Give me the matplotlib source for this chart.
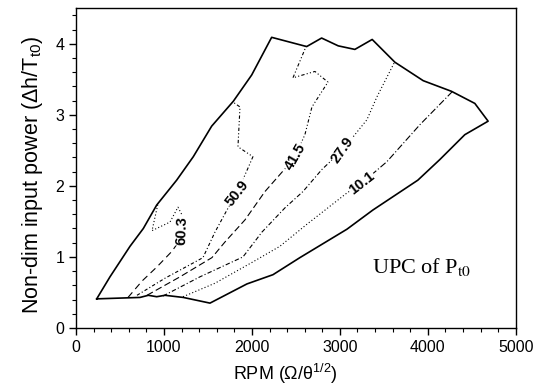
import numpy as np
import matplotlib
matplotlib.use("Agg")
import matplotlib.pyplot as plt
from matplotlib.ticker import MultipleLocator

plt.rcParams["font.family"] = ["Liberation Sans", "DejaVu Sans"]
plt.rcParams["mathtext.fontset"] = "custom"
plt.rcParams["mathtext.rm"] = "Liberation Sans"
plt.rcParams["mathtext.it"] = "Liberation Sans:italic"

# ---- operating envelope (solid outline)
env_rpm = [235, 386, 614, 765, 917, 1144, 1333, 1542, 1788, 1997, 2224, 2622, 2792,
           2981, 3170, 3367, 3625, 3947, 4269, 4534, 4685, 4420, 4136, 3886, 3375,
           3080, 2545, 2239, 1943, 1523, 1219, 1011, 917, 822, 727, 235]
env_pow = [0.41, 0.72, 1.15, 1.40, 1.73, 2.08, 2.41, 2.84, 3.19, 3.56, 4.09, 3.96, 4.08,
           3.97, 3.92, 4.06, 3.74, 3.48, 3.33, 3.16, 2.91, 2.72, 2.37, 2.08, 1.66,
           1.39, 0.99, 0.75, 0.62, 0.35, 0.43, 0.46, 0.44, 0.46, 0.43, 0.41]

# ---- contour lines (UPC of Pt0)
c603_rpm = [591, 750, 920, 1091, 1159, 1205, 1205, 1159, 1068, 864, 932]
c603_pow = [0.43, 0.66, 0.86, 1.08, 1.20, 1.37, 1.59, 1.70, 1.49, 1.37, 1.75]
c509_rpm = [693, 1011, 1295, 1443, 1580, 1716, 1830, 1955, 2011, 1841, 1864, 1784]
c509_pow = [0.46, 0.70, 0.89, 0.99, 1.35, 1.66, 1.90, 2.25, 2.41, 2.55, 3.11, 3.18]
c415_rpm = [807, 1182, 1545, 1693, 1920, 2148, 2432, 2489, 2602, 2682, 2864, 2716, 2466, 2625]
c415_pow = [0.46, 0.72, 0.99, 1.21, 1.52, 1.92, 2.32, 2.41, 2.72, 3.11, 3.46, 3.61, 3.52, 3.99]
c279_rpm = [989, 1409, 1898, 2114, 2375, 2580, 2795, 3034, 3170, 3307, 3420, 3625]
c279_pow = [0.45, 0.72, 1.00, 1.35, 1.69, 1.92, 2.23, 2.51, 2.72, 2.93, 3.25, 3.75]
c101_rpm = [1216, 1580, 2011, 2318, 2625, 3080, 3250, 3534, 3909, 4273]
c101_pow = [0.44, 0.63, 0.93, 1.15, 1.46, 1.90, 2.04, 2.34, 2.86, 3.32]

# label text, series, index of the point the label sits on, rotation
levels = [("60.3", c603_rpm, c603_pow, 5, 88),
          ("50.9", c509_rpm, c509_pow, 6, 52),
          ("41.5", c415_rpm, c415_pow, 7, 60),
          ("27.9", c279_rpm, c279_pow, 7, 55),
          ("10.1", c101_rpm, c101_pow, 6, 38)]

# dash patterns roughly as they look on the scan (below label / above label)
styles = {"60.3": ((0, (6, 4)), (0, (1, 2))),
          "50.9": ((0, (3, 2, 1, 2)), (0, (3, 2, 1, 2, 1, 2))),
          "41.5": ((0, (6, 3)), (0, (3, 2, 1, 2, 1, 2))),
          "27.9": ((0, (4, 2, 1, 2)), (0, (1, 2))),
          "10.1": ((0, (1, 2)), (0, (6, 2, 1, 2)))}

fig = plt.figure(figsize=(5.47, 3.90), dpi=100)
ax = fig.add_axes([0.139, 0.159, 0.804, 0.820])

ax.plot(env_rpm, env_pow, color="black", lw=1.2, zorder=3)

for lab, xs, ys, k, rot in levels:
    lo, hi = styles[lab]
    ax.plot(xs[:k + 1], ys[:k + 1], color="black", lw=0.8, ls=lo, zorder=2)
    ax.plot(xs[k:], ys[k:], color="black", lw=0.8, ls=hi, zorder=2)
    ax.text(xs[k], ys[k], lab, rotation=rot, ha="center", va="center",
            fontsize=10.5, fontweight="bold", zorder=4,
            bbox=dict(facecolor="white", edgecolor="none", pad=0.5))

ax.text(3364, 0.77, r"UPC of P$_{\rm t0}$", fontsize=16, family="Liberation Serif",
        math_fontfamily="stix", ha="left", va="baseline")

ax.set_xlim(0, 5000)
ax.set_ylim(0, 4.5)
ax.xaxis.set_major_locator(MultipleLocator(1000))
ax.xaxis.set_minor_locator(MultipleLocator(200))
ax.yaxis.set_major_locator(MultipleLocator(1))
ax.yaxis.set_minor_locator(MultipleLocator(0.2))
ax.tick_params(which="major", direction="out", length=5, width=1, labelsize=11.5)
ax.tick_params(which="minor", direction="out", length=3, width=0.8)
for s in ax.spines.values():
    s.set_linewidth(1.0)

ax.set_xlabel(r"RPM (Ω/θ$^{1/2}$)", fontsize=13)
ax.set_ylabel(r"Non-dim input power (Δh/T$_{\rm t0}$)", fontsize=15.5)
ax.xaxis.set_label_coords(0.475, -0.105)
ax.yaxis.set_label_coords(-0.07, 0.48)

fig.savefig("out.png", dpi=100)
